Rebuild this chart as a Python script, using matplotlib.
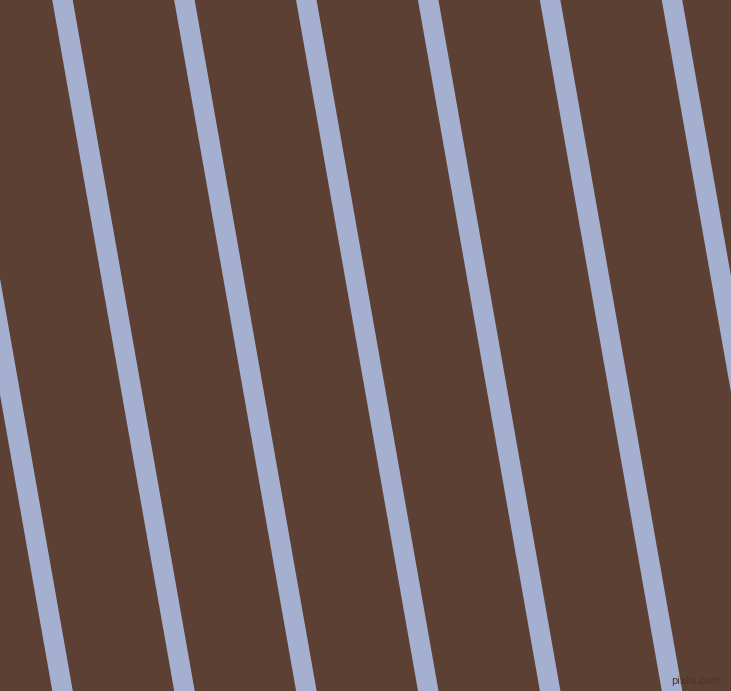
import matplotlib
matplotlib.use("Agg")
import matplotlib.pyplot as plt
from matplotlib.patches import Polygon

# Stripe data (pixel units)
stripe_x_top = [-59.4, 62.5, 184.4, 306.3, 428.2, 550.1, 672.0, 793.9]
stripe_slope = 0.1765          # horizontal shift per pixel downward
stripe_width = 20.5            # horizontal width of each stripe
W, H = 731, 691
background = "#5C4033"
stripe_color = "#A5AFCF"

fig = plt.figure(figsize=(W / 100, H / 100), dpi=100)
ax = fig.add_axes([0, 0, 1, 1])
ax.set_xlim(0, W)
ax.set_ylim(H, 0)
ax.set_facecolor(background)
fig.patch.set_facecolor(background)
ax.axis("off")

for x0 in stripe_x_top:
    x1 = x0 + stripe_slope * H
    hw = stripe_width / 2
    poly = Polygon([(x0 - hw, 0), (x0 + hw, 0), (x1 + hw, H), (x1 - hw, H)],
                   closed=True, facecolor=stripe_color, edgecolor="none")
    ax.add_patch(poly)

ax.text(720, 681, "pixlis.com", color="#4A3228", fontsize=7, ha="right", va="center")

fig.savefig("out.png", dpi=100, facecolor=background)
